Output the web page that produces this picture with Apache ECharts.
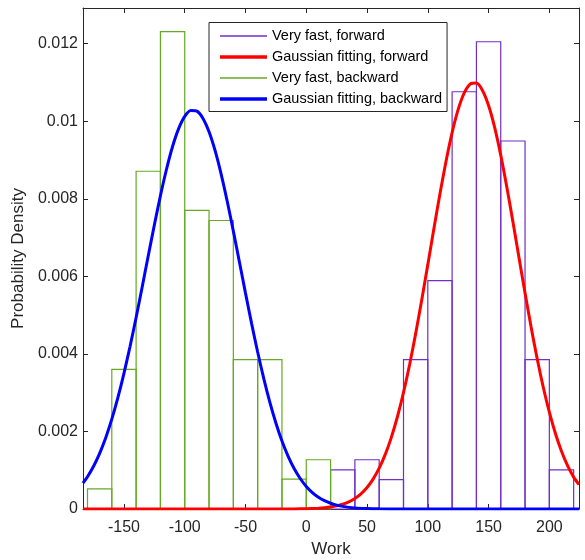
<!DOCTYPE html>
<html>
<head>
<meta charset="utf-8">
<script src="https://cdn.jsdelivr.net/npm/echarts@6/dist/echarts.min.js"></script>
<style>html,body{margin:0;padding:0;background:#fff}#c{width:585px;height:560px}</style>
</head>
<body>
<div id="c"></div>
<script>
// ---- data ----
const xTicks = [-150, -100, -50, 0, 50, 100, 150, 200];
const yTicks = [0, 0.002, 0.004, 0.006, 0.008, 0.01, 0.012];
const xRange = [-183.7, 224.4];
const yRange = [0, 0.01292];

const seriesNames = ['Very fast, forward', 'Gaussian fitting, forward', 'Very fast, backward', 'Gaussian fitting, backward'];

// histogram "Very fast, forward" (bin edges and densities)
const forwardEdges = [20, 40, 60, 80, 100, 120, 140, 160, 180, 200, 220];
const forwardDensity = [0.00101, 0.00127, 0.00076, 0.00385, 0.00589, 0.01076, 0.01205, 0.00949, 0.00385, 0.00101];

// histogram "Very fast, backward"
const backwardEdges = [-180, -160, -140, -120, -100, -80, -60, -40, -20, 0, 20];
const backwardDensity = [0.00052, 0.00360, 0.00871, 0.01231, 0.00770, 0.00744, 0.00385, 0.00385, 0.00077, 0.00127];

// fitted curves
const fitForwardX = [-183.7, -150, -100, -50, -20, -10, 0, 10, 15, 20, 25, 30, 35, 40, 45, 50, 55, 60, 65, 70, 75, 80, 85, 90, 95, 100, 105, 110, 115, 120, 125, 130, 135, 140, 145, 150, 155, 160, 165, 170, 175, 180, 185, 190, 195, 200, 205, 210, 215, 220, 224.4];
const fitForwardY = [0, 0, 0, 0, 0.0000002, 0.0000015, 0.000007, 0.00002, 0.000032, 0.000051, 0.00008, 0.000122, 0.000184, 0.000271, 0.000391, 0.000554, 0.000771, 0.001052, 0.001408, 0.001848, 0.002379, 0.003004, 0.003721, 0.004522, 0.00539, 0.006302, 0.007227, 0.008129, 0.008969, 0.009708, 0.010306, 0.010732, 0.010962, 0.010983, 0.010794, 0.010405, 0.00984, 0.009127, 0.008303, 0.007411, 0.006487, 0.005569, 0.004691, 0.003875, 0.00314, 0.002496, 0.001946, 0.001489, 0.001117, 0.000822, 0.00063];

const fitBackwardX = [-183.7, -180, -175, -170, -165, -160, -155, -150, -145, -140, -135, -130, -125, -120, -115, -110, -105, -100, -95, -90, -85, -80, -75, -70, -65, -60, -55, -50, -45, -40, -35, -30, -25, -20, -15, -10, -5, 0, 5, 10, 15, 20, 25, 30, 40, 50, 60, 80, 100, 150, 200, 224.4];
const fitBackwardY = [0.00067, 0.000833, 0.001103, 0.001436, 0.001839, 0.002317, 0.002871, 0.003498, 0.004191, 0.00494, 0.005727, 0.006531, 0.007323, 0.008078, 0.008762, 0.009349, 0.009809, 0.010124, 0.010276, 0.010259, 0.010073, 0.009728, 0.00924, 0.008632, 0.00793, 0.007167, 0.00637, 0.005568, 0.004787, 0.004048, 0.003367, 0.002754, 0.002216, 0.001752, 0.001364, 0.001044, 0.000786, 0.000582, 0.000424, 0.000303, 0.000214, 0.000148, 0.000101, 0.000068, 0.000029, 0.000012, 0.000004, 0.0000005, 0, 0, 0, 0];

// ---- styling ----
const FONT = '"Liberation Sans", Arial, Helvetica, sans-serif';
const AX = '#262626';
const PURPLE = '#7030C8';
const RED = '#FF0000';
const GREEN = '#66AA22';
const BLUE = '#0000FF';

function histSeries(name, edges, dens, color) {
  const data = dens.map((d, i) => [edges[i], edges[i + 1], d]);
  return {
    type: 'custom', name: name, data: data,
    encode: { x: [0, 1], y: 2 },
    itemStyle: { color: color },
    renderItem: function (params, api) {
      const p0 = api.coord([api.value(0), api.value(2)]);
      const p1 = api.coord([api.value(1), 0]);
      return {
        type: 'rect',
        shape: { x: p0[0], y: p0[1], width: p1[0] - p0[0], height: p1[1] - p0[1] },
        style: { fill: 'none', stroke: color, lineWidth: 1.2 }
      };
    }
  };
}
function lineSeries(name, xs, ys, color) {
  return {
    type: 'line', name: name, data: xs.map((x, i) => [x, ys[i]]),
    showSymbol: false, symbol: 'none', smooth: 0.25,
    lineStyle: { color: color, width: 3 }, itemStyle: { color: color }
  };
}

const axisCommon = {
  type: 'value',
  axisLine: { show: true, onZero: false, lineStyle: { color: AX, width: 1 } },
  splitLine: { show: false }
};

const chart = echarts.init(document.getElementById('c'), null, { renderer: 'canvas' });
chart.setOption({
  animation: false,
  backgroundColor: '#fff',
  grid: { left: 83, right: 6, top: 8, bottom: 51, containLabel: false, outerBoundsMode: 'none' },
  xAxis: [
    Object.assign({}, axisCommon, {
      position: 'bottom', min: xRange[0], max: xRange[1],
      axisTick: { show: true, inside: true, length: 5, customValues: xTicks, lineStyle: { color: AX } },
      axisLabel: { customValues: xTicks, margin: 11, fontSize: 16, color: AX, fontFamily: FONT },
      name: 'Work', nameLocation: 'middle', nameGap: 32,
      nameTextStyle: { fontSize: 17, color: AX, fontFamily: FONT }
    }),
    Object.assign({}, axisCommon, {
      position: 'top', min: xRange[0], max: xRange[1],
      axisTick: { show: true, inside: true, length: 5, customValues: xTicks, lineStyle: { color: AX } },
      axisLabel: { show: false }
    })
  ],
  yAxis: [
    Object.assign({}, axisCommon, {
      position: 'left', min: yRange[0], max: yRange[1],
      axisTick: { show: true, inside: true, length: 5, customValues: yTicks, lineStyle: { color: AX } },
      axisLabel: { customValues: yTicks, margin: 5, fontSize: 16, color: AX, fontFamily: FONT },
      name: 'Probability Density', nameLocation: 'middle', nameGap: 51, nameRotate: 90,
      nameTextStyle: { fontSize: 17, color: AX, fontFamily: FONT }
    }),
    Object.assign({}, axisCommon, {
      position: 'right', min: yRange[0], max: yRange[1],
      axisTick: { show: true, inside: true, length: 5, customValues: yTicks, lineStyle: { color: AX } },
      axisLabel: { show: false }
    })
  ],
  legend: {
    orient: 'vertical', left: 209, top: 22.5,
    padding: [6, 5, 5, 11], itemWidth: 47, itemHeight: 14, itemGap: 6,
    backgroundColor: '#fff', borderColor: AX, borderWidth: 1, borderRadius: 0,
    selectedMode: false,
    textStyle: { fontSize: 14.5, color: '#000', fontFamily: FONT, lineHeight: 14 },
    data: [
      { name: seriesNames[0], icon: 'path://M0,0H47V1.5H0Z', itemStyle: { color: PURPLE, borderWidth: 0 } },
      { name: seriesNames[1], icon: 'path://M0,0H47V3.5H0Z', itemStyle: { color: RED, borderWidth: 0 } },
      { name: seriesNames[2], icon: 'path://M0,0H47V1.5H0Z', itemStyle: { color: GREEN, borderWidth: 0 } },
      { name: seriesNames[3], icon: 'path://M0,0H47V3.5H0Z', itemStyle: { color: BLUE, borderWidth: 0 } }
    ]
  },
  series: [
    histSeries(seriesNames[0], forwardEdges, forwardDensity, PURPLE),
    lineSeries(seriesNames[1], fitForwardX, fitForwardY, RED),
    histSeries(seriesNames[2], backwardEdges, backwardDensity, GREEN),
    lineSeries(seriesNames[3], fitBackwardX, fitBackwardY, BLUE)
  ]
});
</script>
</body>
</html>
